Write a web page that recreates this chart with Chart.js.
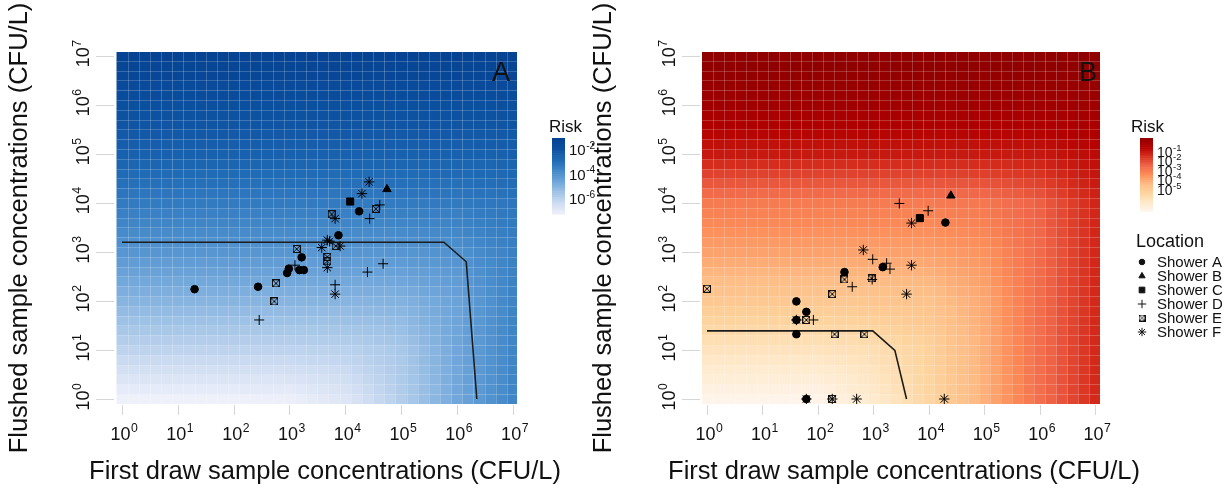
<!DOCTYPE html>
<html>
<head>
<meta charset="utf-8">
<script src="https://cdn.jsdelivr.net/npm/chart.js@4.4.1/dist/chart.umd.min.js"></script>
<style>
  body { margin: 0; background: #fff; }
  #wrap { position: relative; width: 1226px; height: 494px; }
  canvas { position: absolute; left: 0; top: 0; }
</style>
</head>
<body>
<div id="wrap">
  <canvas id="chartA" width="1226" height="494"></canvas>
  <canvas id="chartB" width="1226" height="494"></canvas>
</div>
<script>
// axis decades (10^0 .. 10^7)
const decades = [0, 1, 2, 3, 4, 5, 6, 7];
const locations = ['Shower A', 'Shower B', 'Shower C', 'Shower D', 'Shower E', 'Shower F'];

// panel A samples: [first draw, flushed] in CFU/L
const showerA_A = [[20, 174], [275, 195], [912, 372], [977, 457], [1510, 427], [1820, 427], [1660, 776], [7590, 2190], [17800, 6760]];
const showerB_A = [[56200, 19100]];
const showerC_A = [[12300, 10700]];
const showerD_A = [[288, 41], [1260, 537], [6610, 214], [25100, 389], [47900, 575], [27500, 4790], [41700, 9120]];
const showerE_A = [[537, 98], [575, 229], [1350, 1150], [4790, 794], [4790, 646], [5750, 5890], [6760, 1320], [35500, 7590]];
const showerF_A = [[26900, 26900], [20000, 15500], [6610, 4790], [4790, 1740], [5250, 1660], [3800, 1230], [8130, 1320], [4790, 479], [6610, 138]];
const limitA = [[1, 1580], [589000, 1580], [1480000, 631], [2290000, 1]];

// panel B samples
const showerA_B = [[41, 98], [62, 60], [41, 41], [41, 21], [62, 1], [302, 389], [1480, 490], [20000, 3980]];
const showerB_B = [[25100, 14100]];
const showerC_B = [[6920, 4900]];
const showerD_B = [[2950, 9770], [9770, 6920], [977, 708], [1740, 589], [2000, 447], [417, 195], [955, 275], [83, 41]];
const showerE_B = [[1, 178], [62, 41], [200, 21], [692, 21], [182, 138], [302, 275], [933, 288], [182, 1]];
const showerF_B = [[41, 41], [62, 1], [182, 1], [501, 1], [19100, 1], [661, 1100], [4900, 537], [3980, 138], [4900, 3890]];
const limitB = [[1, 24.5], [977, 24.5], [2450, 9.8], [3980, 1]];

// log10 risk read at each decade node: rows = flushed 10^0..10^7, cols = first draw 10^0..10^7
const riskGridA = [
  [-7.7, -7.7, -7.7, -7.65, -7.25, -6.3, -5.1, -4.1],
  [-6.5, -6.5, -6.5, -6.5, -6.45, -6.1, -5.08, -4.1],
  [-5.5, -5.5, -5.5, -5.5, -5.5, -5.42, -4.98, -4.08],
  [-4.6, -4.6, -4.6, -4.6, -4.6, -4.58, -4.48, -3.98],
  [-3.8, -3.8, -3.8, -3.8, -3.8, -3.8, -3.78, -3.64],
  [-3.0, -3.0, -3.0, -3.0, -3.0, -3.0, -3.0, -2.97],
  [-2.3, -2.3, -2.3, -2.3, -2.3, -2.3, -2.3, -2.3],
  [-1.6, -1.6, -1.6, -1.6, -1.6, -1.6, -1.6, -1.6]
];
const riskGridB = [
  [-5.96, -5.96, -5.96, -5.45, -4.77, -3.9, -2.9, -2.0],
  [-5.19, -5.19, -5.19, -5.05, -4.65, -3.88, -2.9, -2.0],
  [-4.4, -4.4, -4.4, -4.34, -4.25, -3.78, -2.88, -2.0],
  [-3.7, -3.7, -3.7, -3.7, -3.67, -3.49, -2.84, -1.99],
  [-3.1, -3.1, -3.1, -3.1, -3.1, -3.04, -2.69, -1.97],
  [-1.8, -1.8, -1.8, -1.8, -1.8, -1.8, -1.78, -1.59],
  [-1.1, -1.1, -1.1, -1.1, -1.1, -1.1, -1.1, -1.06],
  [-0.7, -0.7, -0.7, -0.7, -0.7, -0.7, -0.7, -0.7]
];
const riskTicksA = [-2, -4, -6];
const riskTicksB = [-1, -2, -3, -4, -5];

const FONT = '"Liberation Sans", Arial, Helvetica, sans-serif';

const blues = [[238, 240, 250], [205, 220, 242], [160, 195, 230], [110, 165, 218], [65, 135, 200], [30, 105, 180], [12, 80, 160], [5, 65, 145]];
const reds = [[255, 245, 235], [254, 232, 200], [253, 212, 158], [253, 187, 132], [252, 141, 89], [239, 101, 72], [215, 48, 31], [179, 0, 0], [145, 0, 0]];

function ramp(stops, t) {
  t = Math.min(1, Math.max(0, t));
  const s = t * (stops.length - 1);
  const k = Math.min(stops.length - 2, Math.floor(s));
  const f = s - k;
  const c = stops[k].map((v, n) => Math.round(v + (stops[k + 1][n] - v) * f));
  return `rgb(${c[0]},${c[1]},${c[2]})`;
}

function sampleGrid(grid, lx, ly) {
  const cx = Math.min(7, Math.max(0, lx)), cy = Math.min(7, Math.max(0, ly));
  const i0 = Math.min(6, Math.floor(cx)), j0 = Math.min(6, Math.floor(cy));
  const fx = cx - i0, fy = cy - j0;
  const a = grid[j0][i0], b = grid[j0][i0 + 1], c = grid[j0 + 1][i0], d = grid[j0 + 1][i0 + 1];
  return (a * (1 - fx) + b * fx) * (1 - fy) + (c * (1 - fx) + d * fx) * fy;
}

function boxCross(size) {
  const c = document.createElement('canvas');
  c.width = size; c.height = size;
  const g = c.getContext('2d');
  g.strokeStyle = '#111';
  g.lineWidth = 1;
  g.strokeRect(0.5, 0.5, size - 1, size - 1);
  g.beginPath();
  g.moveTo(1, 1); g.lineTo(size - 1, size - 1);
  g.moveTo(size - 1, 1); g.lineTo(1, size - 1);
  g.stroke();
  return c;
}

const markers = [
  { style: 'circle', r: 3.8 },
  { style: 'triangle', r: 4.8 },
  { style: 'rect', r: 5 },
  { style: 'cross', r: 5 },
  { style: boxCross(8), r: 4 },
  { style: 'star', r: 5.2 }
];
const legendMarkers = [
  { pointStyle: 'circle', radius: 2.8 },
  { pointStyle: 'triangle', radius: 3.6 },
  { pointStyle: 'rect', radius: 4 },
  { pointStyle: 'cross', radius: 4.2 },
  { pointStyle: boxCross(7), radius: 3 },
  { pointStyle: 'star', radius: 4.2 }
];

function pts(arr) { return arr.map(p => ({ x: p[0], y: p[1] })); }

function drawPow(ctx, exp, x, baseY, size, align) {
  const ss = size * 0.68;
  ctx.font = `${size}px ${FONT}`;
  const wb = ctx.measureText('10').width;
  ctx.font = `${ss}px ${FONT}`;
  const we = ctx.measureText(String(exp)).width;
  const x0 = align === 'left' ? x : x - (wb + we) / 2;
  ctx.textAlign = 'left';
  ctx.textBaseline = 'alphabetic';
  ctx.font = `${size}px ${FONT}`;
  ctx.fillText('10', x0, baseY);
  ctx.font = `${ss}px ${FONT}`;
  ctx.fillText(String(exp), x0 + wb + 0.5, baseY - size * 0.42);
}

function heatPlugin(grid, stops, lo, hi) {
  return {
    id: 'heat',
    beforeDatasetsDraw(chart) {
      const { ctx, chartArea: a, scales: { x, y } } = chart;
      ctx.save();
      ctx.beginPath();
      ctx.rect(a.left, a.top, a.right - a.left, a.bottom - a.top);
      ctx.clip();
      for (let i = 0; i < 37; i++) {
        for (let j = 0; j < 37; j++) {
          const lx = -0.1 + 0.2 * i, ly = -0.1 + 0.2 * j;
          const v = sampleGrid(grid, lx + 0.1, ly + 0.1);
          ctx.fillStyle = ramp(stops, (v - lo) / (hi - lo));
          const x0 = x.getPixelForValue(10 ** lx), x1 = x.getPixelForValue(10 ** (lx + 0.2));
          const y0 = y.getPixelForValue(10 ** ly), y1 = y.getPixelForValue(10 ** (ly + 0.2));
          ctx.fillRect(x0, y1, x1 - x0 + 0.6, y0 - y1 + 0.6);
        }
      }
      ctx.strokeStyle = 'rgba(255,255,255,0.2)';
      ctx.lineWidth = 1;
      ctx.beginPath();
      for (let i = 0; i < 38; i++) {
        const e = -0.1 + 0.2 * i;
        const px = Math.round(x.getPixelForValue(10 ** e)) + 0.5;
        const py = Math.round(y.getPixelForValue(10 ** e)) + 0.5;
        ctx.moveTo(px, a.top); ctx.lineTo(px, a.bottom);
        ctx.moveTo(a.left, py); ctx.lineTo(a.right, py);
      }
      ctx.stroke();
      ctx.restore();
    }
  };
}

function framePlugin(p) {
  return {
    id: 'frame',
    afterDraw(chart) {
      const { ctx, chartArea: a, scales: { x, y } } = chart;
      ctx.save();
      // tick marks
      ctx.strokeStyle = '#d6d6d6';
      ctx.lineWidth = 1;
      ctx.beginPath();
      decades.forEach(e => {
        const px = Math.round(x.getPixelForValue(10 ** e)) + 0.5;
        const py = Math.round(y.getPixelForValue(10 ** e)) + 0.5;
        ctx.moveTo(px, a.bottom + 1); ctx.lineTo(px, a.bottom + 11);
        ctx.moveTo(a.left - 20, py); ctx.lineTo(a.left - 2, py);
      });
      ctx.stroke();
      // tick labels
      ctx.fillStyle = '#111';
      decades.forEach(e => {
        drawPow(ctx, e, x.getPixelForValue(10 ** e) + 2, 440, 18, 'center');
        ctx.save();
        ctx.translate(p.yTickX, y.getPixelForValue(10 ** e) - 2);
        ctx.rotate(-Math.PI / 2);
        drawPow(ctx, e, 0, 0, 18, 'center');
        ctx.restore();
      });
      // axis titles
      ctx.font = `25.5px ${FONT}`;
      ctx.textAlign = 'center';
      ctx.textBaseline = 'alphabetic';
      ctx.fillText('First draw sample concentrations (CFU/L)', p.xTitleX, 479);
      ctx.save();
      ctx.translate(p.yTitleX, 228);
      ctx.rotate(-Math.PI / 2);
      ctx.fillText('Flushed sample concentrations (CFU/L)', 0, 0);
      ctx.restore();
      // panel letter
      ctx.font = `27px ${FONT}`;
      ctx.textAlign = 'right';
      ctx.fillText(p.letter, p.letterX, 81);
      // risk colour bar
      ctx.textAlign = 'left';
      ctx.font = `17px ${FONT}`;
      ctx.fillText('Risk', p.riskX, 132);
      const steps = 40, bh = p.barBottom - p.barTop;
      for (let k = 0; k < steps; k++) {
        ctx.fillStyle = ramp(p.stops, 1 - (k + 0.5) / steps);
        ctx.fillRect(p.barX, p.barTop + bh * k / steps, 13, bh / steps + 0.6);
      }
      ctx.fillStyle = '#111';
      p.riskTicks.forEach(e => {
        const ty = p.tickTop + (p.riskTicks[0] - e) * p.tickStep;
        drawPow(ctx, e, p.barX + 17, ty + 5, p.tickFont, 'left');
      });
      // location legend
      if (p.showLocation) {
        ctx.font = `18px ${FONT}`;
        ctx.textAlign = 'left';
        ctx.fillText('Location', 1136, 247);
        locations.forEach((name, i) => {
          const cy = 262 + 14 * i;
          ctx.fillStyle = '#111';
          ctx.strokeStyle = '#111';
          ctx.lineWidth = 1;
          if (Chart.helpers && Chart.helpers.drawPoint) {
            Chart.helpers.drawPoint(ctx, Object.assign({ rotation: 0, borderWidth: 1 }, legendMarkers[i]), 1142, cy);
          }
          ctx.font = `15px ${FONT}`;
          ctx.fillStyle = '#111';
          ctx.fillText(name, 1157, cy + 5);
        });
      }
      ctx.restore();
    }
  };
}

function makeChart(id, groups, limit, grid, stops, lo, hi, xRange, pad, p) {
  const datasets = groups.map((g, i) => ({
    label: locations[i],
    data: pts(g),
    pointStyle: markers[i].style,
    pointRadius: markers[i].r,
    backgroundColor: '#000',
    borderColor: '#000',
    borderWidth: 1,
    order: 0
  }));
  datasets.push({
    label: 'limit',
    data: pts(limit),
    showLine: true,
    borderColor: '#1c1c1c',
    borderWidth: 1.6,
    pointRadius: 0,
    tension: 0,
    order: 2
  });
  return new Chart(document.getElementById(id), {
    type: 'scatter',
    data: { datasets },
    options: {
      responsive: false,
      animation: false,
      devicePixelRatio: 1,
      events: [],
      layout: { padding: pad },
      plugins: { legend: { display: false }, tooltip: { enabled: false } },
      scales: {
        x: { type: 'logarithmic', bounds: 'data', min: 10 ** xRange[0], max: 10 ** xRange[1], display: false },
        y: { type: 'logarithmic', bounds: 'data', min: 10 ** -0.102, max: 10 ** 7.08, display: false }
      }
    },
    plugins: [heatPlugin(grid, stops, lo, hi), framePlugin(p)]
  });
}

makeChart('chartA',
  [showerA_A, showerB_A, showerC_A, showerD_A, showerE_A, showerF_A], limitA,
  riskGridA, blues, -7.7, -1.5, [-0.107, 7.08],
  { left: 116, right: 709, top: 52, bottom: 90 },
  { yTickX: 89, xTitleX: 325, yTitleX: 27, letter: 'A', letterX: 510, stops: blues,
    riskX: 549, barX: 552, barTop: 138, barBottom: 214, riskTicks: riskTicksA, tickTop: 150, tickStep: 12.3,
    tickFont: 15, showLocation: false });

makeChart('chartB',
  [showerA_B, showerB_B, showerC_B, showerD_B, showerE_B, showerF_B], limitB,
  riskGridB, reds, -6.0, -0.8, [-0.09, 7.09],
  { left: 702, right: 126, top: 52, bottom: 90 },
  { yTickX: 675, xTitleX: 904, yTitleX: 611, letter: 'B', letterX: 1097, stops: reds,
    riskX: 1131, barX: 1140, barTop: 138, barBottom: 211, riskTicks: riskTicksB, tickTop: 151.5, tickStep: 9.6,
    tickFont: 14, showLocation: true });
</script>
</body>
</html>
